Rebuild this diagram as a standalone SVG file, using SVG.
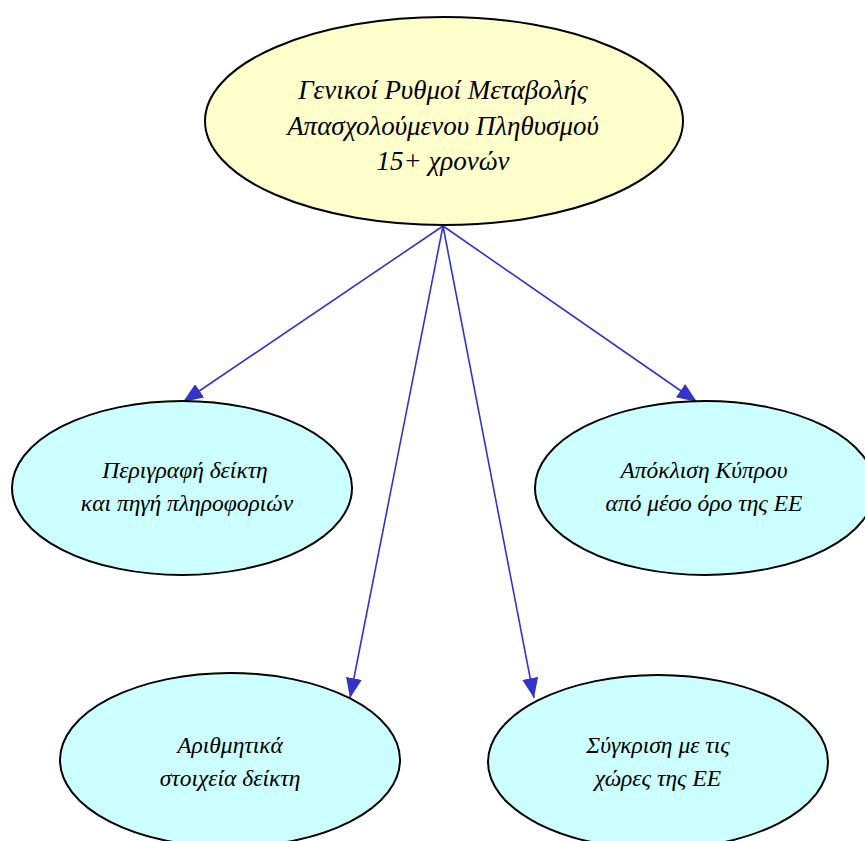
<svg xmlns="http://www.w3.org/2000/svg" width="865" height="841" viewBox="0 0 865 841">
<defs>
<marker id="arr" markerWidth="20" markerHeight="16" refX="20" refY="8" orient="auto" markerUnits="userSpaceOnUse">
<path d="M0,0 L20,8 L0,16 Z" fill="#3333cc"/>
</marker>
<style>
.node ellipse{stroke:#000;stroke-width:2}
.top ellipse{fill:#ffffcc}
.child ellipse{fill:#ccffff}
text{font-family:"Liberation Serif","DejaVu Serif",serif;font-style:italic;text-anchor:middle;fill:#000}
.t1{font-size:27px}
.t2{font-size:23.5px}
#edges line{stroke:#3333cc;stroke-width:1.6;marker-end:url(#arr)}
</style>
</defs>
<rect width="865" height="841" fill="#fff"/>
<g id="edges">
<line x1="443" y1="226" x2="183" y2="402"/>
<line x1="443" y1="226" x2="697" y2="402"/>
<line x1="443" y1="226" x2="350" y2="698"/>
<line x1="443" y1="226" x2="534" y2="698"/>
</g>
<g id="n0" class="node top">
<ellipse cx="444" cy="121" rx="239" ry="104"/>
<text class="t1" x="443" y="99">Γενικοί Ρυθμοί Μεταβολής</text>
<text class="t1" x="443" y="135">Απασχολούμενου Πληθυσμού</text>
<text class="t1" x="443" y="170">15+ χρονών</text>
</g>
<g id="n1" class="node child">
<ellipse cx="182" cy="488" rx="170" ry="87"/>
<text class="t2" x="185" y="478">Περιγραφή δείκτη</text>
<text class="t2" x="187" y="511">και πηγή πληροφοριών</text>
</g>
<g id="n2" class="node child">
<ellipse cx="705" cy="488" rx="170" ry="87"/>
<text class="t2" x="704" y="478">Απόκλιση Κύπρου</text>
<text class="t2" x="704" y="511">από μέσο όρο της ΕΕ</text>
</g>
<g id="n3" class="node child">
<ellipse cx="230" cy="760" rx="170" ry="87"/>
<text class="t2" x="230" y="753">Αριθμητικά</text>
<text class="t2" x="230" y="786">στοιχεία δείκτη</text>
</g>
<g id="n4" class="node child">
<ellipse cx="658" cy="762" rx="170" ry="87"/>
<text class="t2" x="658" y="753">Σύγκριση με τις</text>
<text class="t2" x="658" y="786">χώρες της ΕΕ</text>
</g>
</svg>
